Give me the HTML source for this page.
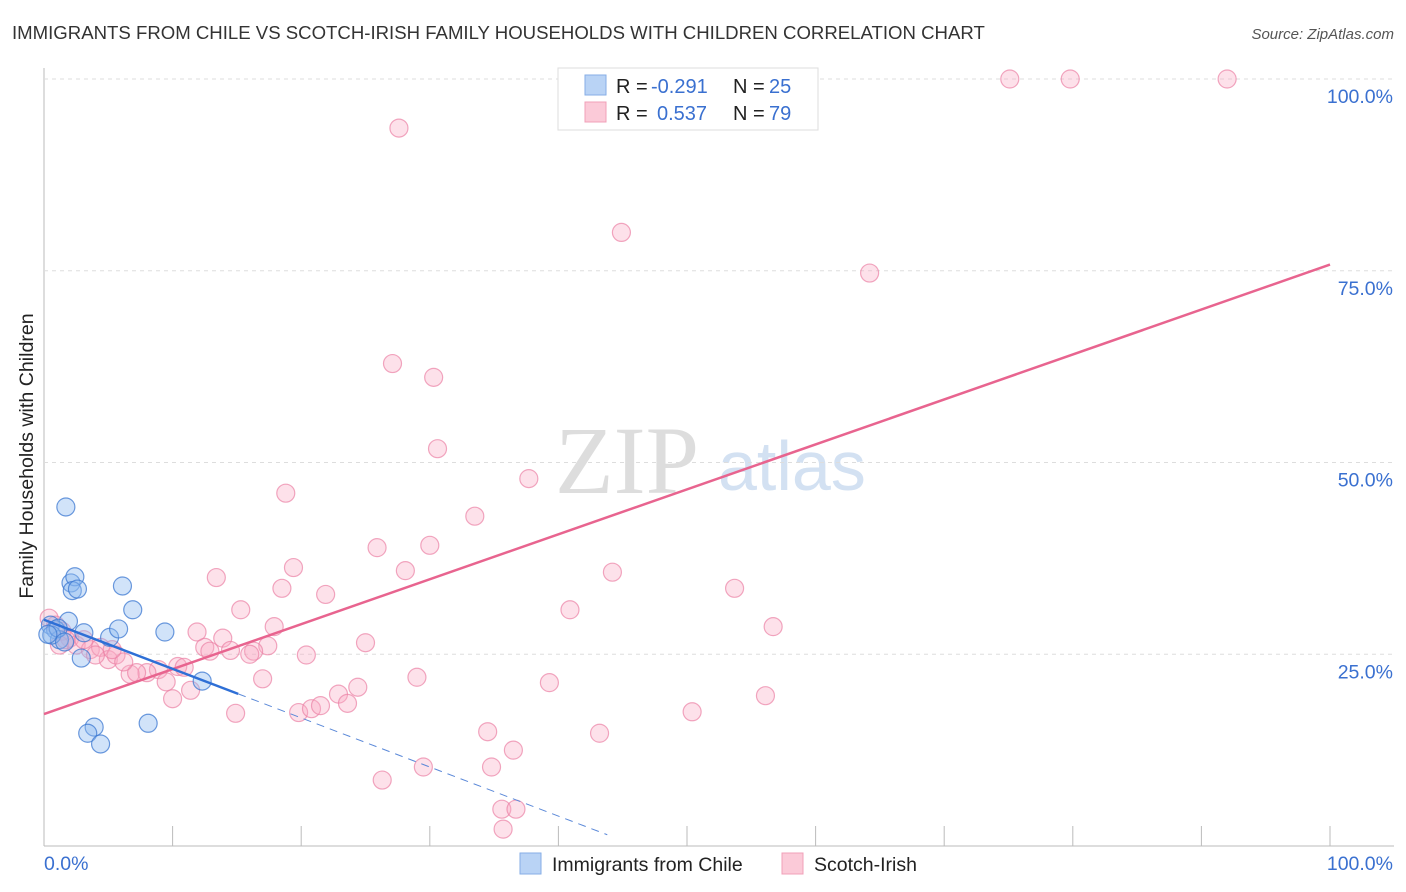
<!DOCTYPE html>
<html><head><meta charset="utf-8"><style>
body{margin:0;background:#fff;font-family:"Liberation Sans",sans-serif}
svg{display:block}
</style></head><body>
<svg id="c" width="1406" height="892">
<text x="12" y="39" font-size="18.6" fill="#333">IMMIGRANTS FROM CHILE VS SCOTCH-IRISH FAMILY HOUSEHOLDS WITH CHILDREN CORRELATION CHART</text>
<text x="1394" y="39" font-size="15" fill="#555" font-style="italic" text-anchor="end">Source: ZipAtlas.com</text>
<text x="33" y="456" font-size="19.6" fill="#222" text-anchor="middle" transform="rotate(-90 33 456)">Family Households with Children</text>
<text x="555" y="493" font-size="96" fill="#ddd" font-family="Liberation Serif">ZIP</text>
<text x="718" y="490" font-size="70" fill="#d3e1f2">atlas</text>
<g id="grid"></g><g id="pts"></g><g id="lines"></g>
<g>
<rect x="558" y="68" width="260" height="62" fill="#fff" stroke="#ddd"/>
<rect x="585" y="75" width="21" height="20" fill="#b9d3f5" stroke="#86aee6"/>
<rect x="585" y="102" width="21" height="20" fill="#fbcad8" stroke="#f0a0b8"/>
<text x="616" y="93" font-size="20" fill="#222">R = </text>
<text x="651" y="93" font-size="20" fill="#3a70d0">-0.291</text>
<text x="733" y="93" font-size="20" fill="#222">N = </text>
<text x="769" y="93" font-size="20" fill="#3a70d0">25</text>
<text x="616" y="120" font-size="20" fill="#222">R = </text>
<text x="657" y="120" font-size="20" fill="#3a70d0">0.537</text>
<text x="733" y="120" font-size="20" fill="#222">N = </text>
<text x="769" y="120" font-size="20" fill="#3a70d0">79</text>
</g>
<g>
<rect x="520" y="853" width="21" height="21" fill="#b9d3f5" stroke="#86aee6"/>
<text x="552" y="871" font-size="19.5" fill="#222">Immigrants from Chile</text>
<rect x="782" y="853" width="21" height="21" fill="#fbcad8" stroke="#f0a0b8"/>
<text x="814" y="871" font-size="19.5" fill="#222">Scotch-Irish</text>
</g>
</svg>
<script>
const yTicks=[25,50,75,100];
const xTickLabels=["0.0%","100.0%"];
const chileX=[1.7,2.1,2.4,2.2,2.6,6.1,6.9,1.9,3.1,5.1,5.8,9.4,2.9,12.3,8.1,3.9,3.4,4.4,0.5,0.9,1.2,0.6,1.1,1.6,0.3];
const chileY=[44.2,34.3,35.1,33.3,33.5,33.9,30.8,29.3,27.8,27.2,28.3,27.9,24.5,21.5,16.0,15.5,14.7,13.3,28.8,28.2,26.9,27.5,28.4,26.6,27.6];
const irishX=[27.6,75.1,79.8,92.0,44.9,64.2,27.1,30.3,30.6,37.7,18.8,33.5,25.9,30.0,19.4,28.1,13.4,44.2,18.5,21.9,15.3,40.9,53.7,17.9,56.7,11.9,13.9,25.0,17.4,16.3,12.5,12.9,14.5,16.0,20.4,10.4,10.9,8.9,8.0,6.7,7.2,9.5,11.4,10.0,14.9,17.0,22.9,24.4,29.0,39.3,56.1,50.4,19.8,20.8,21.5,23.6,34.5,43.2,36.5,29.5,34.8,26.3,35.6,36.7,35.7,0.4,0.9,1.4,2.0,2.5,3.6,4.4,5.0,5.6,6.2,1.2,1.7,3.1,4.0,5.3];
const irishY=[93.6,100,100,100,80.0,74.7,62.9,61.1,51.8,47.9,46.0,43.0,38.9,39.2,36.3,35.9,35.0,35.7,33.6,32.8,30.8,30.8,33.6,28.6,28.6,27.9,27.1,26.5,26.1,25.4,25.9,25.4,25.5,25.0,24.9,23.4,23.3,23.0,22.6,22.4,22.6,21.4,20.3,19.2,17.3,21.8,19.8,20.7,22.0,21.3,19.6,17.5,17.4,17.9,18.3,18.6,14.9,14.7,12.5,10.3,10.3,8.6,4.8,4.8,2.2,29.7,28.8,28.0,27.1,26.2,25.6,25.9,24.3,24.9,24.0,26.2,26.9,26.9,24.9,25.6];
const chileTrend=[29.5,-0.64];
const irishTrend=[17.2,0.586];
const chileSolidEnd=15.1, chileDashEnd=43.8;
const X=v=>44+v*12.86, Y=v=>846-v*7.67;
const NS="http://www.w3.org/2000/svg";
function mk(t,a,p){const e=document.createElementNS(NS,t);for(const k in a)e.setAttribute(k,a[k]);p.appendChild(e);return e;}
const g=document.getElementById('grid');
let ax=mk('line',{x1:44,y1:68,x2:44,y2:846,stroke:'#bbb'},g);


let bx=mk('line',{x1:44,y1:846,x2:1394,y2:846,stroke:'#bbb'},g);


yTicks.forEach(t=>{
 const l=mk('line',{x1:44,y1:Y(t),x2:1394,y2:Y(t),stroke:'#ddd','stroke-dasharray':'4,4'},g);
 
 
 const tx=mk('text',{x:1393,y:Y(t)+24,'font-size':19.5,fill:'#3a70d0','text-anchor':'end'},g);
 tx.textContent=t.toFixed(1)+'%';
 
 
});
for(let i=0;i<=10;i++){
 const tk=mk('line',{x1:X(i*10),y1:826,x2:X(i*10),y2:846,stroke:'#bbb'},g);
 
 
}
[[0,'start',44],[100,'end',1393]].forEach((d,i)=>{
 const tx=mk('text',{x:d[2],y:870,'font-size':19.5,fill:'#3a70d0','text-anchor':d[1]},g);
 tx.textContent=xTickLabels[i];
 
 
});
const p=document.getElementById('pts');
irishX.forEach((x,i)=>{
 const c=mk('circle',{cx:X(x),cy:Y(irishY[i]),r:9,fill:'rgba(248,170,195,0.35)',stroke:'rgba(235,130,165,0.7)','stroke-width':1.2},p);
 
 
});
chileX.forEach((x,i)=>{
 const c=mk('circle',{cx:X(x),cy:Y(chileY[i]),r:9,fill:'rgba(140,185,240,0.4)',stroke:'rgba(60,120,210,0.75)','stroke-width':1.2},p);
 
 
});
const L=document.getElementById('lines');
const f=(t,x)=>t[0]+t[1]*x;
let l1=mk('line',{x1:X(0),y1:Y(f(irishTrend,0)),x2:X(100),y2:Y(f(irishTrend,100)),stroke:'#e8648f','stroke-width':2.5},L);


let l2=mk('line',{x1:X(0),y1:Y(f(chileTrend,0)),x2:X(chileSolidEnd),y2:Y(f(chileTrend,chileSolidEnd)),stroke:'#2e6fd6','stroke-width':2.5},L);


let l3=mk('line',{x1:X(chileSolidEnd),y1:Y(f(chileTrend,chileSolidEnd)),x2:X(chileDashEnd),y2:Y(f(chileTrend,chileDashEnd)),stroke:'#5a88d8','stroke-width':1,'stroke-dasharray':'8,6'},L);


</script>
</body></html>
